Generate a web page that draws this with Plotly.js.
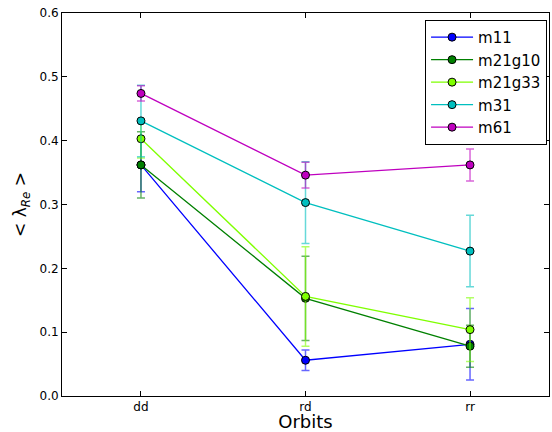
<!DOCTYPE html>
<html>
<head>
<meta charset="utf-8">
<script src="https://cdn.plot.ly/plotly-3.0.1.min.js"></script>
<style>body{margin:0;padding:0;background:#fff;}</style>
</head>
<body>
<div id="chart" style="width:552px;height:432px;"></div>
<script>
const orbits = ["dd", "rd", "rr"];
const seriesNames = ["m11", "m21g10", "m21g33", "m31", "m61"];
const m11 = [0.362, 0.056, 0.081];
const m11Err = [0.042, 0.016, 0.056];
const m21g10 = [0.362, 0.153, 0.078];
const m21g10Err = [0.052, 0.066, 0.033];
const m21g33 = [0.403, 0.156, 0.104];
const m21g33Err = [0.030, 0.078, 0.050];
const m31 = [0.431, 0.303, 0.227];
const m31Err = [0.056, 0.064, 0.056];
const m61 = [0.474, 0.346, 0.362];
const m61Err = [0.012, 0.020, 0.025];
const yTicks = [0.0, 0.1, 0.2, 0.3, 0.4, 0.5, 0.6];

const values = [m11, m21g10, m21g33, m31, m61];
const errs = [m11Err, m21g10Err, m21g33Err, m31Err, m61Err];
const colors = ["#0000ff", "#008000", "#7fff00", "#00bfbf", "#bf00bf"];
const errColors = ["rgba(0,0,255,0.6)", "rgba(0,128,0,0.6)", "rgba(127,255,0,0.6)", "rgba(0,191,191,0.6)", "rgba(191,0,191,0.6)"];

const traces = seriesNames.map((name, i) => ({
  type: "scatter",
  mode: "lines+markers",
  name: name,
  x: orbits,
  y: values[i],
  line: {color: colors[i], width: 1.3},
  marker: {color: colors[i], size: 8, line: {color: "#000", width: 1}},
  error_y: {type: "data", array: errs[i], visible: true, color: errColors[i], thickness: 1.5, width: 4}
}));

const layout = {
  width: 552, height: 432,
  margin: {l: 62, r: 3, t: 13, b: 36},
  paper_bgcolor: "#fff", plot_bgcolor: "#fff",
  font: {family: "DejaVu Sans", color: "#000"},
  xaxis: {
    type: "category", range: [-0.48, 2.48],
    showgrid: false, zeroline: false,
    showline: true, linecolor: "#000", linewidth: 1, mirror: "ticks",
    ticks: "inside", ticklen: 5, tickcolor: "#000",
    tickfont: {size: 12, family: "DejaVu Sans"},
    title: {text: "Orbits", font: {size: 18, family: "DejaVu Sans"}, standoff: 7}
  },
  yaxis: {
    range: [0, 0.6], tickvals: yTicks, ticktext: yTicks.map(v => v.toFixed(1)),
    showgrid: false, zeroline: false,
    showline: true, linecolor: "#000", linewidth: 1, mirror: "ticks",
    ticks: "inside", ticklen: 5, tickcolor: "#000",
    tickfont: {size: 12, family: "DejaVu Sans"},
    title: {text: "&lt; λ<sub><i>Re</i></sub> &gt;", font: {size: 17, family: "DejaVu Sans"}, standoff: 8}
  },
  legend: {
    x: 0.996, y: 0.982, xanchor: "right", yanchor: "top",
    bgcolor: "#fff", bordercolor: "#000", borderwidth: 1,
    font: {size: 15, family: "DejaVu Sans"},
    itemwidth: 42,
    tracegroupgap: 0
  },
  showlegend: true
};

Plotly.newPlot("chart", traces, layout, {displayModeBar: false});
</script>
</body>
</html>
